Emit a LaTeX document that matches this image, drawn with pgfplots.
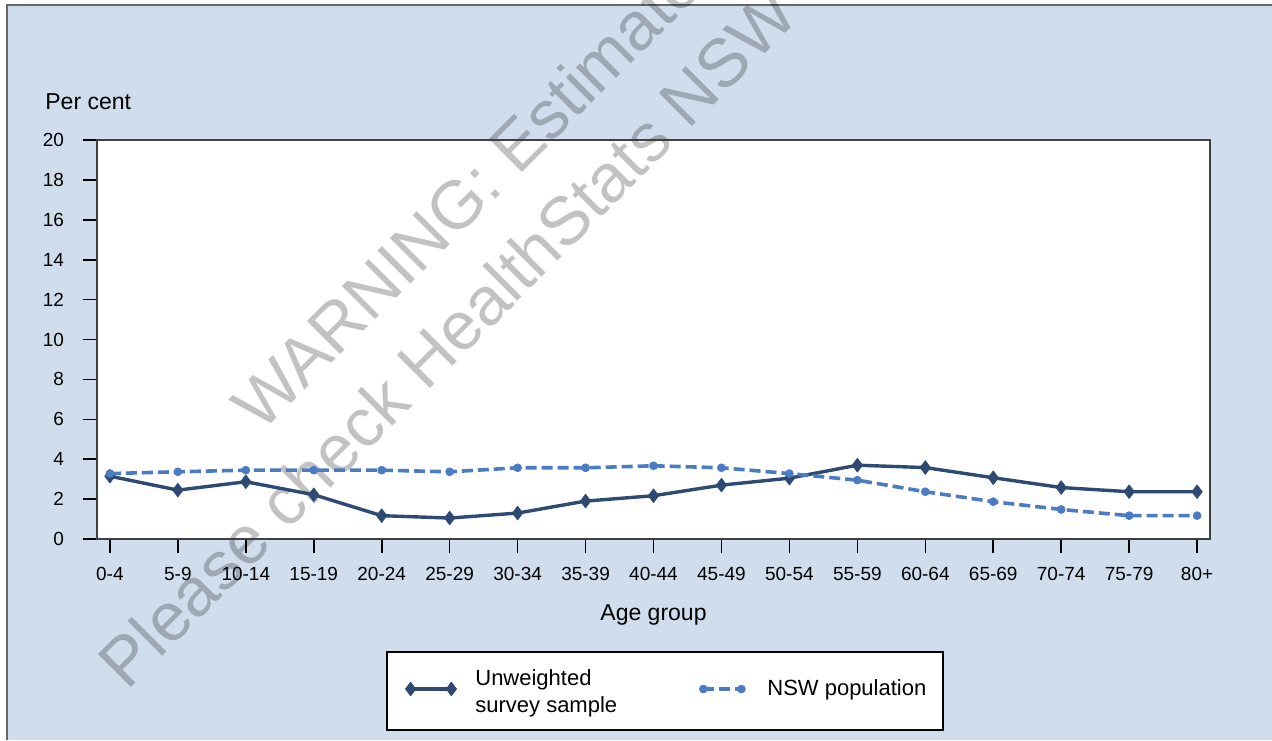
\documentclass[border=0pt]{standalone}
\usepackage{pgfplots}
\pgfplotsset{compat=1.18}
\usepackage{pgfplotstable}
\usepackage{fontspec}
\setmainfont{Liberation Sans}

\definecolor{bgblue}{HTML}{D0DDEC}
\definecolor{navy}{HTML}{2E4A73}
\definecolor{nswblue}{HTML}{4B7CC3}

% legend samples: a short line with a mark at each end
\pgfplotsset{
  sampleleg/.style={legend image code/.code={
      \path[draw=none, fill=none] (0pt,-4pt) rectangle (35pt,4pt);
      \draw[##1] plot coordinates {(2.6pt,0pt) (23pt,0pt)};}},
  nswleg/.style={legend image code/.code={
      \path[draw=none, fill=none] (0pt,-4pt) rectangle (34pt,4pt);
      \draw[##1] plot coordinates {(2pt,0pt) (21pt,0pt)};}},
}

% age group index, unweighted survey sample (%), NSW population (%)
\pgfplotstableread{
x sample nsw
0  3.15 3.28
1  2.45 3.37
2  2.87 3.45
3  2.22 3.45
4  1.17 3.45
5  1.05 3.37
6  1.30 3.57
7  1.90 3.57
8  2.17 3.67
9  2.70 3.57
10 3.05 3.28
11 3.70 2.95
12 3.58 2.37
13 3.07 1.87
14 2.58 1.48
15 2.37 1.17
16 2.37 1.17
}\agedata

\begin{document}
\begin{tikzpicture}[x=0.5pt,y=0.5pt]
  \path[use as bounding box] (0,0) rectangle (1272,740);
  \fill[bgblue] (7,0) rectangle (1272,735);
  \draw[black!60, line width=0.6pt] (7,0) -- (7,735) -- (1272,735);
  % plot area and legend frame
  \fill[white] (97,201) rectangle (1210,600);
  \draw[black, line width=0.6pt, fill=white] (387,10) rectangle (943,88);
  \node[anchor=base west, inner sep=0pt, font=\fontsize{11.5}{13}\selectfont] at (45,630) {Per cent};

  % watermark, behind the data
  \begin{scope}
    \clip (0,0) rectangle (1272,740);
    \node[rotate=45, anchor=base west, inner sep=0pt, text=black, text opacity=0.24,
      font=\fontsize{34}{40}\selectfont] at (261,306) {WARNING: Estimates may be out of date.};
    \node[rotate=45, anchor=base west, inner sep=0pt, text=black, text opacity=0.24,
      font=\fontsize{34}{40}\selectfont] at (127,48) {Please check HealthStats NSW};
  \end{scope}

  \begin{axis}[
      at={(48.5pt,100.5pt)}, anchor=south west,
      width=556.5pt, height=199.5pt, scale only axis,
      xmin=-0.19, xmax=16.19, ymin=0, ymax=20,
      xtick={0,...,16},
      xticklabels={0-4,5-9,10-14,15-19,20-24,25-29,30-34,35-39,40-44,45-49,50-54,55-59,60-64,65-69,70-74,75-79,80+},
      ytick={0,2,...,20},
      xtick pos=bottom, ytick pos=left,
      tick align=outside, major tick length=7pt,
      tick style={black, line width=0.8pt},
      axis line style={black!75, line width=0.7pt},
      /pgf/number format/assume math mode=true,
      tick label style={font=\fontsize{9.5}{11}\selectfont},
      xticklabel style={yshift=-3.5pt},
      yticklabel style={xshift=-6pt},
      xlabel={Age group},
      xlabel style={at={(axis description cs:0.5,0)}, anchor=base, yshift=-40.5pt,
        inner sep=0pt, font=\fontsize{11.5}{13}\selectfont},
      legend columns=2,
      legend style={at={(axis description cs:0.2767,-0.376)}, anchor=west,
        draw=none, fill=none, inner sep=0pt, column sep=0pt,
        nodes={inner sep=0pt, anchor=west},
        font=\fontsize{11}{13.5}\selectfont},
    ]
    \addplot[navy, line width=1.7pt, line join=round, mark=diamond*, mark size=3.4pt,
      mark options={solid, fill=navy, draw=navy, line width=0.4pt}, sampleleg]
      table[x=x, y=sample] {\agedata};
    \addlegendentry{\raisebox{3.75pt}{\parbox[c]{112pt}{Unweighted\\survey sample}}}
    \addplot[nswblue, line width=1.8pt, dash pattern=on 5.5pt off 2.5pt, mark=*, mark size=2pt,
      mark options={solid, fill=nswblue, draw=nswblue, line width=0.3pt}, nswleg]
      table[x=x, y=nsw] {\agedata};
    \addlegendentry{NSW population}
  \end{axis}
\end{tikzpicture}
\end{document}
